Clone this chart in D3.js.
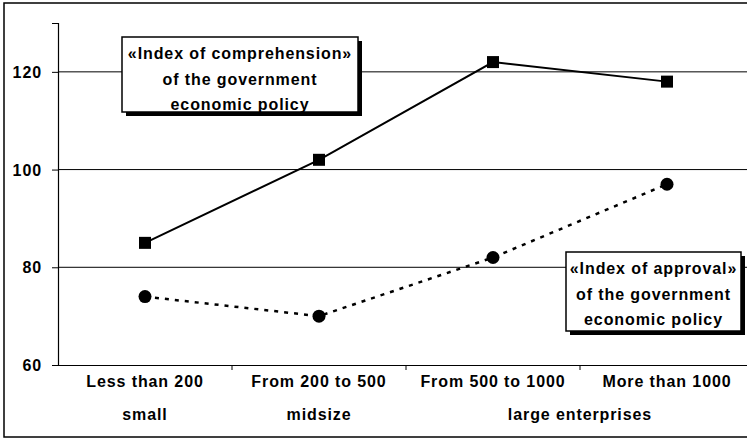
<!DOCTYPE html>
<html>
<head>
<meta charset="utf-8">
<script src="https://cdn.jsdelivr.net/npm/d3@7"></script>
<style>
  body { margin: 0; background: #fff; }
  text { font-family: "Liberation Sans", Arial, sans-serif; font-weight: bold; font-size: 16px; letter-spacing: 0.9px; fill: #000; }
</style>
</head>
<body>
<svg width="747" height="439"></svg>
<script>
var categories = ["Less than 200", "From 200 to 500", "From 500 to 1000", "More than 1000"];
var comprehension = [85, 102, 122, 118];
var approval = [74, 70, 82, 97];
var yTicks = [60, 80, 100, 120];
var groupLabels = [
  {label: "small", from: 0, to: 0},
  {label: "midsize", from: 1, to: 1},
  {label: "large enterprises", from: 2, to: 3}
];
var compLabel = ["\u00abIndex of comprehension\u00bb", "of the government", "economic policy"];
var apprLabel = ["\u00abIndex of approval\u00bb", "of the government", "economic policy"];

var svg = d3.select("svg"),
    margin = {top: 23, right: -7, bottom: 74, left: 58},
    width = +svg.attr("width") - margin.left - margin.right,
    height = +svg.attr("height") - margin.top - margin.bottom;

// outer frame
svg.append("rect")
  .attr("x", 4).attr("y", 3)
  .attr("width", 760).attr("height", 434)
  .attr("fill", "none").attr("stroke", "#000").attr("stroke-width", 1.5);

var g = svg.append("g").attr("transform", "translate(" + margin.left + "," + margin.top + ")");

var x = d3.scaleBand().domain(categories).range([0, width]);
var y = d3.scaleLinear().domain([60, 130]).range([height, 0]);

// gridlines
g.append("g")
  .selectAll("line")
  .data(yTicks.slice(1))
  .enter().append("line")
  .attr("x1", 0).attr("x2", width)
  .attr("y1", function(d) { return y(d); })
  .attr("y2", function(d) { return y(d); })
  .attr("stroke", "#000").attr("stroke-width", 1);

// y axis
var yAxis = g.append("g")
  .call(d3.axisLeft(y).tickValues(yTicks).tickSize(6).tickPadding(10));
yAxis.select(".domain").attr("stroke-width", 1.2);
yAxis.selectAll("text").attr("dy", "0.35em").style("font-size", "16px");

// x axis
var xAxis = g.append("g")
  .attr("transform", "translate(0," + height + ")")
  .call(d3.axisBottom(x).tickSize(0).tickPadding(22));
xAxis.select(".domain").attr("stroke-width", 1.2);
xAxis.selectAll("text").attr("dy", "0").style("font-size", "16px");

xAxis.selectAll(".bound")
  .data(categories.slice(1))
  .enter().append("line")
  .attr("class", "bound")
  .attr("x1", function(d) { return x(d); })
  .attr("x2", function(d) { return x(d); })
  .attr("y1", 0).attr("y2", 5)
  .attr("stroke", "#000");

xAxis.selectAll(".group")
  .data(groupLabels)
  .enter().append("text")
  .attr("class", "group")
  .attr("text-anchor", "middle")
  .attr("x", function(d) {
    return (x(categories[d.from]) + x(categories[d.to]) + x.bandwidth()) / 2;
  })
  .attr("y", 55)
  .text(function(d) { return d.label; });

// lines
var line = d3.line()
  .x(function(d, i) { return x(categories[i]) + x.bandwidth() / 2; })
  .y(function(d) { return y(d); });

g.append("path")
  .datum(approval)
  .attr("fill", "none").attr("stroke", "#000")
  .attr("stroke-width", 2.5)
  .attr("stroke-dasharray", "4,6")
  .attr("d", line);

g.append("path")
  .datum(comprehension)
  .attr("fill", "none").attr("stroke", "#000")
  .attr("stroke-width", 2)
  .attr("d", line);

g.selectAll(".sq")
  .data(comprehension)
  .enter().append("rect")
  .attr("class", "sq")
  .attr("x", function(d, i) { return x(categories[i]) + x.bandwidth() / 2 - 6; })
  .attr("y", function(d) { return y(d) - 6; })
  .attr("width", 12).attr("height", 12)
  .attr("fill", "#000");

g.selectAll(".dot")
  .data(approval)
  .enter().append("circle")
  .attr("class", "dot")
  .attr("cx", function(d, i) { return x(categories[i]) + x.bandwidth() / 2; })
  .attr("cy", function(d) { return y(d); })
  .attr("r", 6.5)
  .attr("fill", "#000");

// annotation boxes
function box(x0, y0, w, h, lines) {
  var b = svg.append("g").attr("transform", "translate(" + x0 + "," + y0 + ")");
  b.append("rect").attr("x", 4).attr("y", 4).attr("width", w).attr("height", h).attr("fill", "#000");
  b.append("rect").attr("width", w).attr("height", h)
    .attr("fill", "#fff").attr("stroke", "#000").attr("stroke-width", 1.5);
  b.selectAll("text")
    .data(lines)
    .enter().append("text")
    .attr("text-anchor", "middle")
    .attr("x", w / 2)
    .attr("y", function(d, i) { return 22 + i * 25.5; })
    .text(function(d) { return d; });
}
box(122, 37, 236, 75, compLabel);
box(566, 252, 175, 79, apprLabel);
</script>
</body>
</html>
